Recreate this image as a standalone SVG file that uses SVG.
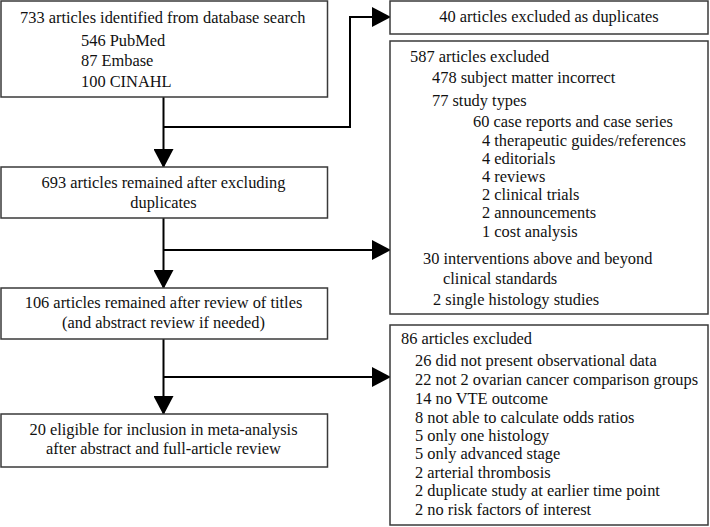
<svg xmlns="http://www.w3.org/2000/svg" width="710" height="527" viewBox="0 0 710 527">
<style>
.box{fill:#fff;stroke:#3a3a3a;stroke-width:1.5}
text{font-family:"Liberation Serif","Times New Roman",serif;font-size:16.4px;fill:#111}
.c{text-anchor:middle}
.ln{fill:none;stroke:#000;stroke-width:2}
</style>
<defs>
<marker id="ah" markerWidth="20" markerHeight="20" refX="18" refY="10" orient="auto" markerUnits="userSpaceOnUse" viewBox="0 0 20 20">
<path d="M0,0 L19,10 L0,20 Z" fill="#000"/>
</marker>
</defs>
<g id="connectors">
<path class="ln" d="M163.5,97 V167" marker-end="url(#ah)"/>
<path class="ln" d="M163.5,127 H350 V17 H390" marker-end="url(#ah)"/>
<path class="ln" d="M163.5,218 V288" marker-end="url(#ah)"/>
<path class="ln" d="M163.5,250 H390" marker-end="url(#ah)"/>
<path class="ln" d="M163.5,339 V414" marker-end="url(#ah)"/>
<path class="ln" d="M163.5,377 H390" marker-end="url(#ah)"/>
</g>
<g id="n1">
<rect class="box" x="1" y="1" width="326.5" height="96"/>
<text x="20" y="23">733 articles identified from database search</text>
<text x="81" y="46">546 PubMed</text>
<text x="81" y="66">87 Embase</text>
<text x="81" y="87">100 CINAHL</text>
</g>
<g id="n2">
<rect class="box" x="1" y="167" width="326.5" height="51"/>
<text class="c" x="163.5" y="188">693 articles remained after excluding</text>
<text class="c" x="163.5" y="208">duplicates</text>
</g>
<g id="n3">
<rect class="box" x="1" y="288" width="326.5" height="51"/>
<text class="c" x="163.5" y="308">106 articles remained after review of titles</text>
<text class="c" x="163.5" y="328">(and abstract review if needed)</text>
</g>
<g id="n4">
<rect class="box" x="1" y="414" width="326.5" height="53"/>
<text class="c" x="163.5" y="435">20 eligible for inclusion in meta-analysis</text>
<text class="c" x="163.5" y="454">after abstract and full-article review</text>
</g>
<g id="r1">
<rect class="box" x="390" y="1" width="318" height="33"/>
<text class="c" x="549" y="22">40 articles excluded as duplicates</text>
</g>
<g id="r2">
<rect class="box" x="390" y="41" width="318" height="273"/>
<text x="410" y="62">587 articles excluded</text>
<text x="432" y="83">478 subject matter incorrect</text>
<text x="432" y="106">77 study types</text>
<text x="473" y="127">60 case reports and case series</text>
<text x="482" y="146">4 therapeutic guides/references</text>
<text x="482" y="164">4 editorials</text>
<text x="482" y="182">4 reviews</text>
<text x="482" y="200">2 clinical trials</text>
<text x="482" y="218">2 announcements</text>
<text x="482" y="237">1 cost analysis</text>
<text x="423" y="264">30 interventions above and beyond</text>
<text x="443" y="284">clinical standards</text>
<text x="433" y="305">2 single histology studies</text>
</g>
<g id="r3">
<rect class="box" x="390" y="325" width="318" height="200"/>
<text x="401" y="344">86 articles excluded</text>
<text x="415" y="366">26 did not present observational data</text>
<text x="415" y="385">22 not 2 ovarian cancer comparison groups</text>
<text x="415" y="404">14 no VTE outcome</text>
<text x="415" y="423">8 not able to calculate odds ratios</text>
<text x="415" y="441">5 only one histology</text>
<text x="415" y="459">5 only advanced stage</text>
<text x="415" y="478">2 arterial thrombosis</text>
<text x="415" y="496">2 duplicate study at earlier time point</text>
<text x="415" y="515">2 no risk factors of interest</text>
</g>
</svg>
